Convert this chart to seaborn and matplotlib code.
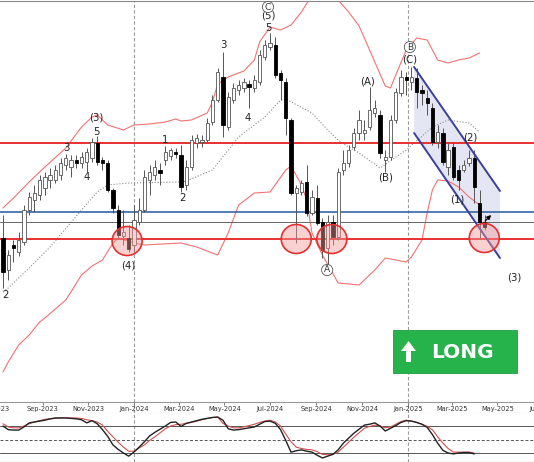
import numpy as np
import pandas as pd
import matplotlib
matplotlib.use("Agg")
import matplotlib.pyplot as plt
from matplotlib.patches import Ellipse, Polygon, Rectangle
import seaborn as sns

# weekly candles (price units, no axis shown)
first_week = "2023-07-10"
opens = [262, 230, 255, 248, 258, 290, 300, 305, 312, 320,
         320, 325, 335, 333, 340, 337, 338, 342, 357, 340,
         337, 310, 290, 264, 262, 255, 278, 290, 320, 325,
         330, 340, 344, 348, 345, 315, 333, 357, 358, 360,
         378, 400, 423, 373, 400, 410, 412, 416, 412, 418,
         443, 453, 455, 427, 418, 380, 307, 308, 318, 287,
         302, 278, 252, 278, 263, 330, 337, 353, 367, 367,
         373, 387, 385, 340, 343, 380, 407, 423, 418, 422,
         410, 402, 392, 358, 367, 333, 353, 330, 330, 337,
         342, 297, 278]
highs = [285, 250, 260, 268, 295, 308, 315, 325, 328, 332,
         335, 342, 346, 345, 345, 348, 352, 362, 364, 343,
         340, 312, 295, 290, 275, 295, 302, 330, 335, 340,
         337, 354, 352, 352, 355, 340, 365, 366, 365, 382,
         405, 432, 448, 408, 417, 420, 422, 420, 425, 450,
         460, 467, 463, 430, 422, 382, 315, 320, 335, 310,
         315, 282, 285, 285, 332, 350, 355, 372, 390, 380,
         413, 400, 390, 350, 385, 412, 430, 428, 433, 432,
         415, 410, 397, 375, 372, 357, 357, 335, 340, 350,
         350, 310, 285]
lows = [212, 220, 238, 244, 255, 285, 288, 300, 305, 312,
        317, 320, 330, 323, 332, 332, 328, 338, 335, 330,
        308, 287, 262, 255, 248, 248, 275, 288, 305, 320,
        315, 335, 340, 342, 308, 310, 330, 352, 353, 358,
        375, 398, 363, 370, 397, 405, 408, 392, 408, 415,
        440, 450, 422, 400, 365, 305, 257, 305, 284, 285,
        275, 242, 232, 255, 260, 325, 333, 350, 360, 360,
        370, 383, 342, 328, 340, 377, 404, 405, 410, 392,
        395, 385, 355, 352, 335, 325, 320, 310, 328, 334,
        297, 262, 270]
closes = [228, 245, 252, 260, 290, 303, 307, 320, 323, 325,
          330, 337, 342, 340, 337, 343, 348, 358, 338, 337,
          310, 292, 265, 268, 251, 280, 290, 323, 328, 333,
          327, 348, 350, 346, 313, 333, 360, 362, 360, 377,
          400, 428, 375, 403, 412, 415, 418, 413, 420, 445,
          455, 457, 425, 420, 382, 307, 312, 317, 287, 303,
          277, 250, 278, 263, 328, 337, 350, 367, 380, 370,
          390, 392, 347, 343, 380, 408, 423, 420, 423, 408,
          407, 397, 358, 368, 338, 350, 323, 320, 335, 342,
          313, 278, 273]

# bollinger bands, read at some weeks (week index -> price)
upper_week = [0, 2, 5, 8, 12, 15, 17, 18, 20, 23, 25, 28, 31, 33, 34, 36, 39, 40, 41, 43,
              46, 48, 49, 51, 53, 55, 57, 59, 60, 61, 62, 63, 64, 66, 68, 71, 73, 74, 75, 77,
              79, 81, 83, 85, 87, 89, 91]
upper_band = [292, 302, 318, 333, 352, 373, 383, 385, 375, 370, 375, 376, 378, 381, 379, 380, 387, 398, 416, 423,
              429, 440, 458, 473, 470, 475, 488, 505, 515, 525, 522, 510, 500, 488, 474, 438, 414, 412, 425, 450,
              462, 460, 440, 437, 440, 442, 447]
mid_week = [0, 1, 5, 9, 15, 18, 20, 24, 34, 35, 40, 45, 50, 53, 54, 59, 62, 64, 66, 68, 72, 77, 82, 85, 89, 91]
mid_band = [208, 212, 232, 253, 290, 308, 315, 317, 318, 319, 330, 363, 383, 400, 401, 387, 370, 360, 353, 347,
            332, 350, 373, 380, 377, 368]
lower_week = [0, 1, 3, 5, 7, 8, 12, 15, 17, 19, 21, 22, 25, 27, 34, 37, 41, 43, 45, 48,
              51, 54, 55, 57, 58, 59, 61, 64, 68, 71, 73, 77, 78, 80, 81, 82, 83, 85, 87, 89, 91]
lower_band = [128, 138, 155, 165, 178, 182, 200, 225, 234, 240, 257, 262, 257, 255, 257, 253, 245, 267, 295, 307,
              308, 330, 334, 315, 300, 267, 245, 217, 215, 230, 242, 238, 243, 260, 287, 310, 320, 319, 313, 303, 295]

# stochastic (weekly, %K black, %D red)
stoch_k = [80, 72, 71, 71, 78, 87, 89, 91, 93, 96, 98, 98, 98, 97, 96, 94, 87, 92, 85, 72,
           57, 38, 28, 20, 13, 22, 33, 45, 58, 66, 73, 80, 88, 89, 79, 86, 89, 92, 95, 97,
           99, 100, 93, 74, 71, 72, 74, 76, 78, 84, 90, 91, 86, 72, 48, 22, 25, 27, 24, 22,
           15, 9, 13, 17, 27, 42, 53, 64, 73, 82, 84, 87, 80, 69, 75, 81, 88, 92, 91, 88,
           84, 77, 61, 42, 26, 20, 18, 20, 21, 21, 18]
stoch_d = [85, 78, 76, 76, 80, 85, 89, 92, 95, 96, 97, 98, 98, 98, 98, 97, 94, 92, 89, 82,
           68, 56, 44, 33, 24, 24, 31, 38, 48, 56, 65, 74, 80, 83, 84, 86, 88, 91, 94, 97,
           99, 100, 86, 80, 76, 76, 78, 81, 84, 88, 91, 93, 89, 80, 62, 45, 33, 30, 28, 27,
           23, 17, 16, 17, 22, 33, 44, 55, 65, 75, 79, 82, 80, 76, 78, 84, 90, 93, 91, 88,
           84, 79, 72, 56, 42, 30, 22, 22, 22, 22, 20]

# drawn levels and markings
resistance = 357
blue_level = 288
gray_level = 278
support = 261
circle_centers = [(23.7, 259), (56.0, 261), (62.8, 261), (91.9, 262)]
channel_top = [(78.5, 433), (94.9, 309)]
channel_bottom = [(78.5, 367), (94.9, 242)]
wave_labels = [
    ("2", 0.4, 205), ("3", 12.2, 352), ("4", 16.0, 323), ("5", 17.9, 368), ("(3)", 17.9, 382),
    ("(4)", 23.9, 235), ("1", 30.9, 360), ("2", 34.2, 302), ("3", 42.0, 455), ("4", 46.8, 382),
    ("5", 50.6, 472), ("(5)", 50.6, 485), ("(A)", 69.7, 418), ("(B)", 73.0, 322), ("(C)", 77.7, 440),
    ("(1)", 86.7, 300), ("(2)", 89.2, 362), ("(3)", 97.6, 222),
]
circled_labels = [("C", 50.6, 493), ("A", 61.9, 230), ("B", 77.7, 453)]

sns.set_style("white")
plt.rcParams["font.family"] = ["DejaVu Sans"]

W, H = 534, 462
fig = plt.figure(figsize=(W / 100, H / 100), dpi=100)


def fy(y):
    return 1 - y / H


ax = fig.add_axes([0, fy(402), 1, fy(1) - fy(402)])
ax_dates = fig.add_axes([0, fy(413), 1, fy(402) - fy(413)])
ax_st = fig.add_axes([0, 0, 1, fy(413)])
X0, X1 = -0.57, 101.4

weeks = pd.date_range(first_week, periods=len(opens), freq="W-MON")
x = np.arange(len(weeks))
o, h, l, c = (np.array(v, dtype=float) for v in (opens, highs, lows, closes))
up = c >= o

# bands
sns.lineplot(x=upper_week, y=upper_band, ax=ax, color="#f27272", lw=0.8)
sns.lineplot(x=lower_week, y=lower_band, ax=ax, color="#f27272", lw=0.8)
sns.lineplot(x=mid_week, y=mid_band, ax=ax, color="#8a8a8a", lw=0.8, linestyle=":")

# levels
ax.axhline(resistance, color="#e8302f", lw=1.4, zorder=2)
ax.axhline(blue_level, color="#3567a6", lw=1.2, zorder=2)
ax.axhline(gray_level, color="#666666", lw=0.7, zorder=2)
ax.axhline(support, color="#e8302f", lw=1.4, zorder=2)

# channel
(ax0, ay0), (ax1, ay1) = channel_top
(bx0, by0), (bx1, by1) = channel_bottom
ax.add_patch(Polygon([(ax0, ay0), (ax1, ay1), (bx1, by1), (bx0, by0)],
                     closed=True, facecolor="#dfe0f0", edgecolor="none", alpha=0.8, zorder=1))
ax.plot([ax0, ax1], [ay0, ay1], color="#3b3f9c", lw=1.4, zorder=5)
ax.plot([bx0, bx1], [by0, by1], color="#3b3f9c", lw=1.4, zorder=5)

# candles
body_lo = np.minimum(o, c)
body_h = np.maximum(np.abs(c - o), 1.5)
ax.vlines(x, l, h, color="#555555", lw=0.7, zorder=3)
ax.bar(x[up], body_h[up], bottom=body_lo[up], width=0.62, color="white",
       edgecolor="#555555", lw=0.6, zorder=4)
ax.bar(x[~up], body_h[~up], bottom=body_lo[~up], width=0.62, color="black",
       edgecolor="black", lw=0.6, zorder=4)

for cx, cy in circle_centers:
    ax.add_patch(Ellipse((cx, cy), 5.73, 29, facecolor="#f39a9a", alpha=0.45,
                         edgecolor="none", zorder=6))
    ax.add_patch(Ellipse((cx, cy), 5.73, 29, facecolor="none", edgecolor="#e53030",
                         lw=1.2, zorder=6))

ax.annotate("", xy=(93.6, 287), xytext=(91.7, 277),
            arrowprops=dict(arrowstyle="-|>", color="black", lw=0.9, mutation_scale=6), zorder=7)

for txt, tx, ty in wave_labels:
    ax.text(tx, ty, txt, ha="center", va="center", fontsize=7.3, color="#222222", zorder=8)
for txt, tx, ty in circled_labels:
    ax.text(tx, ty, txt, ha="center", va="center", fontsize=6.5, color="#333333", zorder=8,
            bbox=dict(boxstyle="circle,pad=0.12", fc="white", ec="#555555", lw=0.6))

ax.set_xlim(X0, X1)
ax.set_ylim(98, 499)
ax.set_xticks([])
ax.set_yticks([])
for s in ("left", "right", "bottom"):
    ax.spines[s].set_visible(False)
ax.spines["top"].set_color("#888888")

# date strip
month_ticks = pd.date_range("2023-07-01", "2025-07-01", freq="2MS")
tick_pos = (month_ticks - weeks[0]).days / 7
ax_dates.set_xlim(X0, X1)
ax_dates.set_ylim(0, 1)
ax_dates.vlines(tick_pos, 0.72, 1.0, color="#666666", lw=0.6)
for p, d in zip(tick_pos, month_ticks):
    ax_dates.text(p, 0.36, d.strftime("%b-%Y"), ha="center", va="center",
                  fontsize=4.8, color="#333333")
ax_dates.set_xticks([])
ax_dates.set_yticks([])
for s in ("left", "right"):
    ax_dates.spines[s].set_visible(False)
for s in ("top", "bottom"):
    ax_dates.spines[s].set_color("#999999")

# stochastic
sx = np.arange(len(stoch_k))
for lvl, ls in ((80, "-"), (50, (0, (3, 2))), (20, "-")):
    ax_st.axhline(lvl, color="#555555", lw=0.7, ls=ls)
sns.lineplot(x=sx, y=stoch_d, ax=ax_st, color="#d05050", lw=0.8)
sns.lineplot(x=sx, y=stoch_k, ax=ax_st, color="#222222", lw=1.0)
ax_st.set_xlim(X0, X1)
ax_st.set_ylim(0, 109)
ax_st.set_xticks([])
ax_st.set_yticks([])
ax_st.set_xlabel("")
ax_st.set_ylabel("")
for s in ("left", "right", "top"):
    ax_st.spines[s].set_visible(False)
ax_st.spines["bottom"].set_color("#888888")

# year separators
for d in ("2024-01-01", "2025-01-01"):
    p = (pd.Timestamp(d) - weeks[0]).days / 7
    for a in (ax, ax_dates, ax_st):
        a.axvline(p, color="#9a9a9a", lw=0.8, ls=(0, (3, 2)), zorder=0)

# LONG badge
fig.add_artist(Rectangle((393 / W, fy(373)), 124 / W, 43 / H, transform=fig.transFigure,
                         facecolor="#27b34b", edgecolor="#1f9c40", lw=0.6))
arrow_px = [(401, 351), (408.5, 341), (416, 351), (411, 351), (411, 362), (406, 362), (406, 351)]
fig.add_artist(Polygon([(px / W, fy(py)) for px, py in arrow_px], closed=True,
                       transform=fig.transFigure, facecolor="white", edgecolor="none"))
fig.text(462 / W, fy(352), "LONG", ha="center", va="center", fontsize=14.5,
         fontweight="bold", color="white")

fig.savefig("out.png", dpi=100)
